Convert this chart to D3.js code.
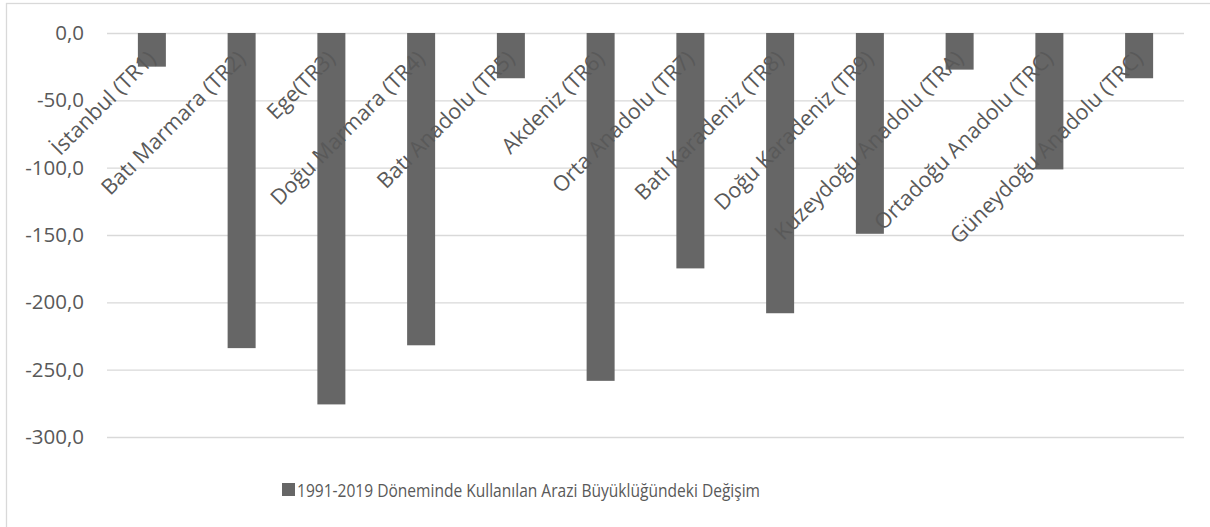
<!DOCTYPE html>
<html>
<head>
<meta charset="utf-8">
<script src="https://cdn.jsdelivr.net/npm/d3@7"></script>
<style>
  html, body { margin: 0; padding: 0; background: #fff; }
  svg { display: block; }
  text { font-family: "Open Sans", "Noto Sans", sans-serif; fill: #595959; }
</style>
</head>
<body>
<svg id="chart" width="1210" height="527"></svg>
<script>
const categories = [
  "İstanbul (TR1)", "Batı Marmara (TR2)", "Ege(TR3)", "Doğu Marmara (TR4)",
  "Batı Anadolu (TR5)", "Akdeniz (TR6)", "Orta Anadolu (TR7)", "Batı Karadeniz (TR8)",
  "Doğu Karadeniz (TR9)", "Kuzeydoğu Anadolu (TRA)", "Ortadoğu Anadolu (TRC)", "Güneydoğu Anadolu (TRC)"
];
const values = [-25.0, -234.0, -275.8, -231.9, -33.6, -258.3, -174.8, -208.1, -149.1, -27.2, -101.3, -33.6];
const yTicks = [0, -50, -100, -150, -200, -250, -300];
const seriesName = "1991-2019 Döneminde Kullanılan Arazi Büyüklüğündeki Değişim";

const svg = d3.select("#chart");

// chart border (left and top visible)
svg.append("rect")
  .attr("x", 6.5).attr("y", 3.5)
  .attr("width", 1230).attr("height", 560)
  .attr("fill", "#fff").attr("stroke", "#d9d9d9").attr("stroke-width", 1.3);

const plot = { left: 107, right: 1184, top: 33, bottom: 437 };

const x = d3.scaleBand()
  .domain(categories)
  .range([plot.left, plot.right])
  .paddingInner(0.688)
  .paddingOuter(0.344);

const y = d3.scaleLinear()
  .domain([-300, 0])
  .range([plot.bottom, plot.top]);

// gridlines + y labels
const yAxis = d3.axisLeft(y)
  .tickValues(yTicks)
  .tickSize(-(plot.right - plot.left))
  .tickPadding(23)
  .tickFormat(d => d3.format(".1f")(d).replace(".", ",").replace("−", "-"));

const gy = svg.append("g")
  .attr("transform", `translate(${plot.left},0)`)
  .call(yAxis);
gy.select(".domain").remove();
gy.selectAll(".tick line").attr("stroke", "#d9d9d9").attr("stroke-width", 1.3);
gy.selectAll(".tick text")
  .attr("font-size", 20.5)
  .attr("fill", "#595959")
  .style("font-family", '"Open Sans", sans-serif');

// bars
svg.append("g").selectAll("rect")
  .data(values)
  .join("rect")
  .attr("x", (d, i) => x(categories[i]))
  .attr("y", d => y(Math.max(0, d)))
  .attr("width", x.bandwidth())
  .attr("height", d => Math.abs(y(d) - y(0)))
  .attr("fill", "#666666");

// category labels, rotated
svg.append("g").selectAll("text")
  .data(categories)
  .join("text")
  .attr("transform", d => `translate(${x(d) + x.bandwidth() / 2 + 5},${60}) rotate(-45)`)
  .attr("text-anchor", "end")
  .attr("font-size", 21.5)
  .text(d => d);

// legend
const legend = svg.append("g");
legend.append("rect")
  .attr("x", 282).attr("y", 483)
  .attr("width", 13).attr("height", 13)
  .attr("fill", "#666666");
legend.append("text")
  .attr("x", 297).attr("y", 497)
  .attr("font-size", 18)
  .attr("textLength", 463)
  .attr("lengthAdjust", "spacingAndGlyphs")
  .text(seriesName);
</script>
</body>
</html>
